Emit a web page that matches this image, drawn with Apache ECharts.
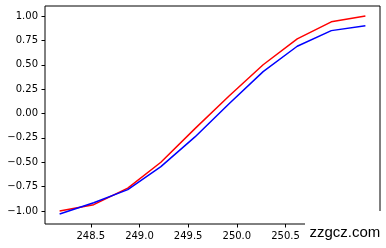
<!DOCTYPE html>
<html>
<head>
<meta charset="utf-8">
<script src="https://cdn.jsdelivr.net/npm/echarts@6/dist/echarts.min.js"></script>
<style>
html,body{margin:0;padding:0;background:#fff;}
#c{width:386px;height:248px;}
</style>
</head>
<body>
<div id="c"></div>
<script>
const xValues = [248.18, 248.53, 248.88, 249.22, 249.57, 249.92, 250.27, 250.62, 250.97, 251.32];
const redValues = [-1.0, -0.935, -0.765, -0.50, -0.155, 0.18, 0.50, 0.765, 0.94, 1.0];
const blueValues = [-1.03, -0.915, -0.78, -0.545, -0.24, 0.10, 0.43, 0.69, 0.85, 0.90];
const xTicks = [248.5, 249.0, 249.5, 250.0, 250.5, 251.0];
const yTicks = [-1.0, -0.75, -0.5, -0.25, 0.0, 0.25, 0.5, 0.75, 1.0];
const watermark = 'zzgcz.com';

const chart = echarts.init(document.getElementById('c'), null, {renderer: 'canvas'});
const fontFam = 'DejaVu Sans';
chart.setOption({
  animation: false,
  backgroundColor: '#fff',
  grid: {
    left: 45, top: 6, width: 335, height: 218,
    show: true, borderColor: '#000', borderWidth: 1, backgroundColor: 'transparent'
  },
  xAxis: {
    type: 'value', min: 248.03, max: 251.47,
    splitLine: {show: false},
    axisLine: {show: false, onZero: false},
    axisTick: {show: true, length: 3.5, customValues: xTicks, lineStyle: {color: '#000', width: 1}},
    axisLabel: {customValues: xTicks, margin: 7, color: '#000', fontFamily: fontFam, fontSize: 10,
      formatter: v => v.toFixed(1)}
  },
  yAxis: {
    type: 'value', min: -1.133, max: 1.1026,
    splitLine: {show: false},
    axisLine: {show: false, onZero: false},
    axisTick: {show: true, length: 3.5, customValues: yTicks, lineStyle: {color: '#000', width: 1}},
    axisLabel: {customValues: yTicks, margin: 7, color: '#000', fontFamily: fontFam, fontSize: 10,
      formatter: v => (v < 0 ? '\u2212' : '') + Math.abs(v).toFixed(2)}
  },
  series: [
    {type: 'line', data: xValues.map((x, i) => [x, redValues[i]]), showSymbol: false,
     lineStyle: {color: '#ff0000', width: 1.5}, itemStyle: {color: '#ff0000'}},
    {type: 'line', data: xValues.map((x, i) => [x, blueValues[i]]), showSymbol: false,
     lineStyle: {color: '#0000ff', width: 1.5}, itemStyle: {color: '#0000ff'}}
  ],
  graphic: [
    {type: 'rect', z: 100, shape: {x: 305, y: 211, width: 81, height: 37}, style: {fill: '#fff'}},
    {type: 'text', z: 101, x: 309.5, y: 233,
     style: {text: watermark, fill: '#000', font: '15px "Liberation Sans", Arial, sans-serif', verticalAlign: 'middle'}}
  ]
});
</script>
</body>
</html>
